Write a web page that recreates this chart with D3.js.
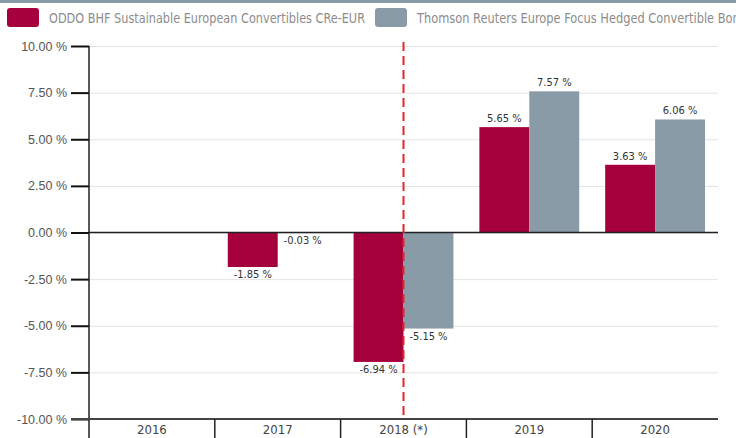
<!DOCTYPE html>
<html>
<head>
<meta charset="utf-8">
<script src="https://cdn.jsdelivr.net/npm/d3@7"></script>
<style>
  body { margin: 0; background: #fff; }
  svg { display: block; font-family: "Liberation Sans Narrow", "DejaVu Sans Condensed", "Open Sans", sans-serif; }
</style>
</head>
<body>
<svg id="chart" width="736" height="438"></svg>
<script>
var categories = ["2016", "2017", "2018 (*)", "2019", "2020"];
var seriesNames = ["ODDO BHF Sustainable European Convertibles CRe-EUR", "Thomson Reuters Europe Focus Hedged Convertible Bond"];
var seriesColors = ["#a5003c", "#8a9ba8"];
var fundValues = [null, -1.85, -6.94, 5.65, 3.63];
var indexValues = [null, -0.03, -5.15, 7.57, 6.06];
var yTicks = [10, 7.5, 5, 2.5, 0, -2.5, -5, -7.5, -10];
var markerCategory = "2018 (*)";

var pct = function(d) { return d.toFixed(2) + " %"; };

var svg = d3.select("#chart");
var margin = { top: 46, left: 89, right: 18, bottom: 19 };
var width = 736 - margin.left - margin.right;
var height = 438 - margin.top - margin.bottom;

// top strip
svg.append("rect").attr("x", 0).attr("y", 0).attr("width", 736).attr("height", 3).attr("fill", "#8a9ba8");

// legend
var legendX = [7, 375];
var legendLen = [316, 330];
seriesNames.forEach(function(name, i) {
  var lg = svg.append("g").attr("transform", "translate(" + legendX[i] + ",8)");
  lg.append("rect").attr("width", 32).attr("height", 19).attr("rx", 3).attr("fill", seriesColors[i]);
  lg.append("text").attr("x", 42).attr("y", 14.5).attr("font-size", 14).attr("fill", "#8c8c8c")
    .attr("textLength", legendLen[i]).attr("lengthAdjust", "spacingAndGlyphs").text(name);
});

var g = svg.append("g").attr("transform", "translate(" + margin.left + "," + margin.top + ")");

var x = d3.scaleBand().domain(categories).range([0, width]);
var y = d3.scaleLinear().domain([-10, 10]).range([height, 0]);
var x1 = d3.scaleBand().domain([0, 1]).range([0, x.bandwidth()]).paddingOuter(0.26).paddingInner(0);

// gridlines
g.append("g").selectAll("line").data(yTicks).enter().append("line")
  .attr("x1", 0).attr("x2", width)
  .attr("y1", function(d) { return y(d) + 0.5; }).attr("y2", function(d) { return y(d) + 0.5; })
  .attr("stroke", "#e3e3e3");

// y axis
var yAxis = d3.axisLeft(y).tickValues(yTicks).tickSize(18).tickPadding(4).tickFormat(pct);
var ya = g.append("g").call(yAxis);
ya.select(".domain").attr("stroke", "#222").attr("stroke-width", 1.5).attr("d", "M0,0V" + (height + 19));
ya.selectAll(".tick line").attr("stroke", "#111").attr("stroke-width", 2);
ya.selectAll(".tick text").attr("font-size", 12.5).attr("fill", "#555");

// bars
var data = [fundValues, indexValues];
var rows = function(d, i) {
  return data.map(function(s, k) { return { k: k, v: s[i] }; }).filter(function(e) { return e.v !== null; });
};
var groups = g.append("g").selectAll("g").data(categories).enter().append("g")
  .attr("transform", function(d) { return "translate(" + x(d) + ",0)"; });
groups.selectAll("rect").data(rows).enter().append("rect")
  .attr("x", function(d) { return x1(d.k); })
  .attr("width", x1.bandwidth())
  .attr("y", function(d) { return y(Math.max(0, d.v)); })
  .attr("height", function(d) { return Math.abs(y(d.v) - y(0)); })
  .attr("fill", function(d) { return seriesColors[d.k]; });

groups.selectAll("text").data(rows).enter().append("text")
  .attr("x", function(d) { return x1(d.k) + x1.bandwidth() / 2; })
  .attr("y", function(d) { return d.v >= 0 ? y(d.v) - 5 : y(d.v) + 11; })
  .attr("text-anchor", "middle").attr("font-size", 11).attr("fill", "#333")
  .text(function(d) { return pct(d.v); });

// zero line
g.append("line").attr("x1", 0).attr("x2", width).attr("y1", y(0)).attr("y2", y(0)).attr("stroke", "#222").attr("stroke-width", 1.5);

// x axis
g.append("line").attr("x1", -18).attr("x2", width).attr("y1", height).attr("y2", height).attr("stroke", "#444").attr("stroke-width", 2);
var xa = g.append("g").attr("transform", "translate(0," + height + ")");
xa.selectAll("line").data(categories.slice(1)).enter().append("line")
  .attr("x1", function(d) { return x(d); }).attr("x2", function(d) { return x(d); })
  .attr("y1", 0).attr("y2", 19).attr("stroke", "#222").attr("stroke-width", 1.5);
xa.selectAll("text").data(categories).enter().append("text")
  .attr("x", function(d) { return x(d) + x.bandwidth() / 2; }).attr("y", 15)
  .attr("text-anchor", "middle").attr("font-size", 13).attr("fill", "#444").text(function(d) { return d; });

// dashed marker line
var mx = x(markerCategory) + x.bandwidth() / 2;
g.append("line").attr("x1", mx).attr("x2", mx).attr("y1", -4).attr("y2", height)
  .attr("stroke", "#e8242b").attr("stroke-width", 2).attr("stroke-dasharray", "9,5");
</script>
</body>
</html>
